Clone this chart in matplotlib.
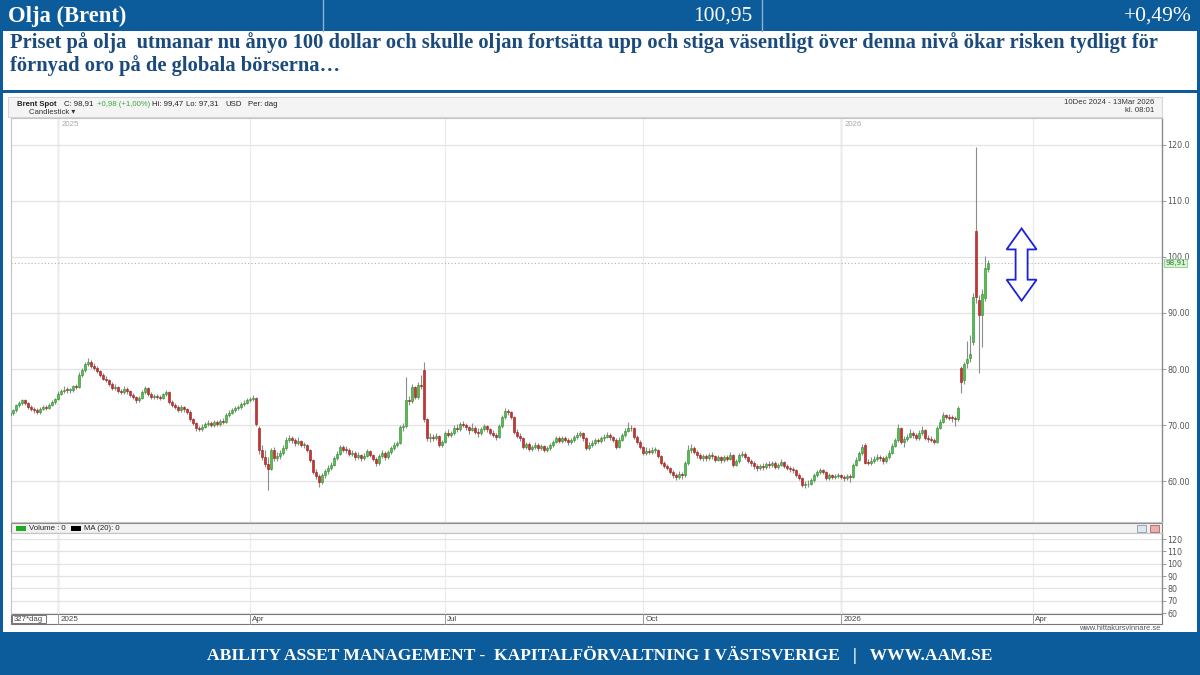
"""Brent spot: dagliga candlesticks med rubrikband, kommentar och sidfot (1200x675)."""

import matplotlib

matplotlib.use("Agg")  # ingen display

import matplotlib.pyplot as plt  # noqa: E402
import numpy as np  # noqa: E402
from matplotlib.patches import Polygon, Rectangle  # noqa: E402
from matplotlib.transforms import blended_transform_factory  # noqa: E402

# Dagliga OHLC, 10 dec 2024 - 13 mar 2026 (327 handelsdagar)
opens = [
    71.8, 72.1, 72.6, 73.5, 73.9, 74.4, 73.9, 73.2, 72.9, 72.7,
    72.4, 72.9, 73.2, 73.0, 73.6, 74.1, 74.6, 75.6, 76.0, 76.3,
    76.2, 76.2, 76.9, 76.8, 79.0, 79.8, 80.9, 81.3, 80.6, 80.2,
    79.6, 79.0, 78.3, 78.0, 77.3, 76.6, 76.8, 76.1, 75.9, 76.5,
    76.0, 75.4, 75.0, 74.4, 74.8, 75.9, 76.6, 75.6, 75.0, 75.2,
    75.0, 74.9, 75.5, 75.9, 74.1, 73.6, 73.2, 72.7, 73.2, 72.8,
    72.4, 71.0, 70.4, 69.5, 69.3, 69.7, 70.2, 70.4, 70.0, 70.6,
    70.2, 70.7, 70.6, 71.8, 72.2, 72.7, 73.0, 73.2, 73.8, 74.0,
    74.5, 74.6, 74.9, 69.5, 65.6, 64.2, 63.0, 62.2, 65.5, 64.1,
    64.5, 65.0, 65.9, 67.4, 67.7, 67.3, 66.8, 67.1, 66.4, 66.4,
    65.5, 63.8, 61.6, 60.9, 59.8, 61.0, 61.7, 62.4, 62.9, 64.1,
    64.9, 66.1, 65.6, 65.5, 64.8, 65.0, 64.2, 64.6, 64.1, 64.5,
    65.3, 64.6, 64.0, 63.2, 64.4, 65.0, 64.3, 65.2, 65.9, 66.5,
    66.8, 69.6, 69.8, 74.5, 74.2, 76.8, 75.0, 77.1, 79.9, 71.0,
    67.7, 67.9, 67.7, 68.1, 66.4, 67.0, 68.6, 68.3, 68.6, 69.5,
    69.2, 70.2, 70.0, 69.6, 69.1, 69.5, 68.8, 68.5, 69.3, 69.8,
    69.2, 68.6, 68.2, 67.9, 69.8, 71.4, 72.5, 72.3, 71.4, 68.8,
    68.1, 67.7, 66.1, 66.6, 65.7, 66.1, 66.4, 65.9, 66.2, 65.6,
    65.9, 66.4, 67.0, 67.7, 67.1, 67.6, 67.4, 66.9, 67.3, 67.8,
    68.2, 68.5, 67.6, 65.9, 66.5, 66.8, 67.3, 67.1, 67.6, 67.9,
    68.2, 67.9, 67.4, 66.1, 67.4, 68.2, 69.0, 69.5, 69.4, 67.9,
    67.0, 66.1, 65.0, 65.4, 65.2, 65.5, 65.5, 64.5, 63.2, 62.7,
    62.3, 61.6, 61.0, 60.7, 61.3, 61.0, 63.2, 65.5, 65.9, 65.2,
    64.6, 64.1, 64.5, 64.1, 64.6, 64.4, 63.8, 64.2, 63.8, 64.3,
    64.0, 64.6, 62.9, 63.6, 64.6, 64.9, 64.3, 63.6, 63.2, 62.6,
    62.3, 62.7, 62.5, 63.0, 62.8, 63.2, 62.5, 62.9, 63.4, 62.7,
    62.3, 62.1, 62.0, 61.1, 60.6, 59.3, 59.4, 59.5, 60.2, 61.0,
    61.6, 61.9, 61.6, 60.5, 61.0, 60.7, 60.9, 61.0, 60.7, 60.5,
    60.9, 60.7, 62.9, 63.8, 65.0, 66.5, 63.3, 63.2, 63.5, 64.0,
    64.3, 64.1, 63.5, 64.2, 65.0, 66.3, 67.3, 69.5, 67.0, 67.5,
    67.9, 68.6, 68.2, 67.7, 68.6, 69.1, 67.7, 67.5, 67.3, 67.0,
    69.5, 70.6, 71.8, 71.5, 71.3, 71.2, 71.0, 80.2, 78.0, 81.0,
    82.0, 84.8, 104.6, 92.3, 89.6, 92.7, 97.93,
]
highs = [
    72.5, 72.9, 73.8, 74.3, 74.6, 74.7, 74.1, 73.5, 73.3, 73.0,
    73.2, 73.5, 73.6, 73.9, 74.4, 74.9, 76.0, 76.5, 76.9, 76.8,
    76.6, 77.2, 77.4, 79.4, 80.2, 81.2, 82.0, 81.6, 81.0, 80.5,
    79.9, 79.3, 78.8, 78.2, 77.6, 77.4, 77.0, 76.5, 76.9, 76.8,
    76.3, 75.7, 75.2, 75.1, 76.2, 77.0, 76.8, 75.9, 75.6, 75.5,
    75.4, 75.8, 76.3, 76.0, 74.4, 73.9, 73.5, 73.6, 73.4, 73.0,
    72.6, 71.3, 70.6, 69.9, 70.1, 70.6, 70.9, 70.7, 70.9, 70.9,
    71.0, 71.2, 72.1, 72.6, 73.0, 73.4, 73.6, 74.1, 74.4, 74.8,
    75.0, 75.3, 75.0, 69.8, 66.4, 65.5, 64.3, 65.9, 66.1, 65.2,
    65.6, 66.4, 67.9, 68.3, 68.1, 67.7, 67.8, 67.4, 67.0, 66.6,
    65.7, 64.0, 62.1, 61.2, 61.4, 62.2, 62.8, 63.4, 64.5, 65.4,
    66.5, 66.4, 66.2, 65.9, 65.6, 65.3, 65.1, 64.9, 65.0, 65.7,
    65.6, 64.9, 64.3, 64.8, 65.5, 65.3, 65.6, 66.3, 66.9, 67.2,
    70.0, 70.3, 78.5, 75.1, 77.3, 77.0, 77.6, 79.0, 81.3, 71.3,
    68.5, 68.4, 68.6, 68.3, 67.4, 69.0, 69.2, 69.0, 70.0, 70.1,
    70.5, 70.8, 70.3, 69.9, 70.4, 69.8, 69.4, 69.7, 70.2, 70.0,
    69.5, 69.1, 68.6, 70.2, 71.8, 73.0, 72.9, 72.5, 71.6, 69.2,
    68.5, 67.9, 67.0, 66.9, 66.5, 66.9, 66.7, 66.6, 66.4, 66.3,
    66.8, 67.4, 68.1, 68.0, 68.0, 68.0, 67.7, 67.7, 68.3, 68.7,
    69.0, 68.7, 67.8, 66.9, 67.3, 67.7, 67.7, 68.0, 68.4, 68.7,
    68.5, 68.1, 67.6, 67.8, 68.6, 69.4, 70.6, 70.0, 69.6, 68.2,
    67.3, 66.3, 66.0, 65.9, 66.0, 66.1, 65.7, 64.7, 63.6, 63.1,
    62.5, 61.9, 61.4, 61.7, 61.6, 63.6, 66.5, 66.6, 66.2, 65.6,
    65.0, 64.9, 64.8, 65.0, 65.1, 64.6, 64.6, 64.5, 64.7, 64.7,
    65.1, 64.8, 64.0, 65.0, 65.3, 65.1, 64.5, 63.9, 63.5, 63.0,
    63.1, 63.2, 63.4, 63.5, 63.6, 63.5, 63.3, 63.9, 63.6, 63.0,
    62.7, 62.5, 62.2, 61.4, 60.8, 60.0, 60.1, 60.6, 61.4, 62.0,
    62.3, 62.2, 61.8, 61.4, 61.3, 61.3, 61.5, 61.3, 61.1, 61.3,
    61.2, 63.2, 64.2, 65.4, 66.6, 66.8, 63.9, 64.3, 64.5, 64.9,
    64.7, 64.4, 64.6, 65.5, 66.7, 67.7, 70.1, 69.7, 68.0, 68.4,
    69.2, 69.0, 68.5, 69.1, 69.9, 69.3, 68.2, 68.0, 67.6, 69.9,
    71.1, 72.3, 72.0, 71.9, 71.7, 71.6, 73.4, 80.5, 81.3, 85.0,
    86.0, 93.5, 119.6, 93.3, 94.2, 100.1, 99.47,
]
lows = [
    71.5, 71.8, 72.4, 73.2, 73.6, 73.5, 72.9, 72.5, 72.2, 71.9,
    72.0, 72.6, 72.7, 72.8, 73.4, 73.8, 74.4, 75.3, 75.7, 75.8,
    75.7, 75.9, 76.4, 76.6, 78.6, 79.5, 80.5, 80.2, 79.8, 79.2,
    78.6, 78.0, 77.6, 77.0, 76.2, 76.3, 75.8, 75.5, 75.6, 75.6,
    75.0, 74.6, 74.0, 74.1, 74.6, 75.6, 75.2, 74.6, 74.7, 74.6,
    74.5, 74.7, 75.2, 73.8, 73.2, 72.8, 72.3, 72.4, 72.4, 71.9,
    70.7, 70.0, 69.0, 68.9, 69.0, 69.4, 69.9, 69.6, 69.7, 69.8,
    69.9, 70.2, 70.4, 71.5, 71.9, 72.4, 72.6, 72.9, 73.4, 73.7,
    74.1, 74.2, 69.8, 64.9, 63.8, 62.5, 58.4, 61.9, 63.6, 63.5,
    64.0, 64.6, 65.6, 66.9, 66.8, 66.3, 66.4, 66.0, 65.9, 65.1,
    63.4, 61.2, 60.3, 58.9, 59.5, 60.6, 61.3, 62.0, 62.6, 63.7,
    64.6, 65.1, 65.0, 64.4, 64.4, 63.8, 63.9, 63.6, 63.7, 64.2,
    64.2, 63.5, 62.7, 62.9, 64.1, 63.8, 64.0, 64.9, 65.5, 66.1,
    66.6, 69.0, 69.5, 73.5, 73.9, 74.6, 74.7, 76.4, 70.6, 67.2,
    67.0, 67.2, 67.4, 66.0, 66.1, 66.8, 67.9, 67.8, 68.3, 68.8,
    68.9, 69.6, 69.1, 68.4, 68.9, 68.4, 67.9, 68.2, 69.0, 68.8,
    68.2, 67.8, 67.4, 67.6, 69.5, 71.1, 71.8, 71.0, 68.4, 67.6,
    67.2, 65.8, 65.7, 65.3, 65.3, 65.7, 65.4, 65.5, 65.2, 65.2,
    65.6, 66.1, 66.7, 66.7, 66.8, 67.0, 66.5, 66.6, 67.0, 67.5,
    67.8, 67.2, 65.5, 65.5, 66.1, 66.5, 66.7, 66.8, 67.2, 67.6,
    67.4, 67.0, 65.7, 65.9, 67.1, 67.9, 68.7, 68.9, 67.5, 66.6,
    65.7, 64.6, 64.7, 64.8, 64.9, 65.0, 64.1, 62.8, 62.3, 61.9,
    61.2, 60.5, 60.1, 60.4, 60.4, 60.8, 62.9, 65.0, 64.8, 64.1,
    63.7, 63.6, 63.6, 63.8, 64.0, 63.4, 63.5, 63.3, 63.4, 63.6,
    63.7, 62.5, 62.6, 63.3, 64.2, 63.9, 63.2, 62.7, 62.2, 61.8,
    61.9, 62.0, 62.2, 62.4, 62.5, 62.1, 62.1, 62.6, 62.3, 61.9,
    61.6, 61.5, 60.7, 60.1, 58.9, 58.8, 59.0, 59.2, 59.9, 60.7,
    61.2, 61.2, 60.1, 60.2, 60.3, 60.4, 60.5, 60.3, 60.0, 60.2,
    59.9, 60.5, 62.6, 63.5, 64.7, 63.0, 62.8, 62.9, 63.2, 63.6,
    63.6, 63.1, 63.2, 63.9, 64.8, 66.0, 67.0, 66.6, 66.0, 67.1,
    67.6, 67.7, 67.3, 67.4, 68.3, 67.3, 67.0, 66.9, 66.6, 66.8,
    69.2, 70.4, 71.1, 70.9, 70.6, 69.9, 70.7, 75.7, 77.4, 80.2,
    81.3, 84.2, 91.8, 79.3, 84.0, 92.2, 97.31,
]
closes = [
    72.1, 72.6, 73.5, 73.9, 74.4, 73.9, 73.2, 72.9, 72.7, 72.4,
    72.9, 73.2, 73.0, 73.6, 74.1, 74.6, 75.6, 76.0, 76.3, 76.2,
    76.2, 76.9, 76.8, 79.0, 79.8, 80.9, 81.3, 80.6, 80.2, 79.6,
    79.0, 78.3, 78.0, 77.3, 76.6, 76.8, 76.1, 75.9, 76.5, 76.0,
    75.4, 75.0, 74.4, 74.8, 75.9, 76.6, 75.6, 75.0, 75.2, 75.0,
    74.9, 75.5, 75.9, 74.1, 73.6, 73.2, 72.7, 73.2, 72.8, 72.4,
    71.0, 70.4, 69.5, 69.3, 69.7, 70.2, 70.4, 70.0, 70.6, 70.2,
    70.7, 70.6, 71.8, 72.2, 72.7, 73.0, 73.2, 73.8, 74.0, 74.5,
    74.6, 74.9, 70.1, 65.6, 64.2, 63.0, 62.2, 65.5, 64.1, 64.5,
    65.0, 65.9, 67.4, 67.7, 67.3, 66.8, 67.1, 66.4, 66.4, 65.5,
    63.8, 61.6, 60.9, 59.8, 61.0, 61.7, 62.4, 62.9, 64.1, 64.9,
    66.1, 65.6, 65.5, 64.8, 65.0, 64.2, 64.6, 64.1, 64.5, 65.3,
    64.6, 64.0, 63.2, 64.4, 65.0, 64.3, 65.2, 65.9, 66.5, 66.8,
    69.6, 69.8, 74.5, 74.2, 76.8, 75.0, 77.1, 77.0, 71.0, 67.7,
    67.9, 67.7, 68.1, 66.4, 67.0, 68.6, 68.3, 68.6, 69.5, 69.2,
    70.2, 70.0, 69.6, 69.1, 69.5, 68.8, 68.5, 69.3, 69.8, 69.2,
    68.6, 68.2, 67.9, 69.8, 71.4, 72.5, 72.3, 71.4, 68.8, 68.1,
    67.7, 66.1, 66.6, 65.7, 66.1, 66.4, 65.9, 66.2, 65.6, 65.9,
    66.4, 67.0, 67.7, 67.1, 67.6, 67.4, 66.9, 67.3, 67.8, 68.2,
    68.5, 67.6, 65.9, 66.5, 66.8, 67.3, 67.1, 67.6, 67.9, 68.2,
    67.9, 67.4, 66.1, 67.4, 68.2, 69.0, 69.5, 69.4, 67.9, 67.0,
    66.1, 65.0, 65.4, 65.2, 65.5, 65.5, 64.5, 63.2, 62.7, 62.3,
    61.6, 61.0, 60.7, 61.3, 61.0, 63.2, 65.5, 65.9, 65.2, 64.6,
    64.1, 64.5, 64.1, 64.6, 64.4, 63.8, 64.2, 63.8, 64.3, 64.0,
    64.6, 62.9, 63.6, 64.6, 64.9, 64.3, 63.6, 63.2, 62.6, 62.3,
    62.7, 62.5, 63.0, 62.8, 63.2, 62.5, 62.9, 63.4, 62.7, 62.3,
    62.1, 62.0, 61.1, 60.6, 59.3, 59.4, 59.5, 60.2, 61.0, 61.6,
    61.9, 61.6, 60.5, 61.0, 60.7, 60.9, 61.0, 60.7, 60.5, 60.9,
    60.7, 62.9, 63.8, 65.0, 66.1, 63.3, 63.2, 63.5, 64.0, 64.3,
    64.1, 63.5, 64.2, 65.0, 66.3, 67.3, 69.5, 67.0, 67.5, 67.9,
    68.6, 68.2, 67.7, 68.6, 69.1, 67.7, 67.5, 67.3, 67.0, 69.5,
    70.6, 71.8, 71.5, 71.3, 71.2, 71.0, 73.0, 77.7, 80.9, 81.8,
    82.7, 92.9, 92.9, 89.6, 93.4, 98.0, 98.91,
]

# tidsaxel: index = handelsdag sedan 10 dec 2024
month_ticks = [16, 80, 145, 211, 277, 341]
month_labels = ["2025", "Apr", "Jul", "Oct", "2026", "Apr"]
year_ticks = [16, 277]
year_labels = ["2025", "2026"]
price_ticks = [60, 70, 80, 90, 100, 110, 120]
price_labels = ["60.00", "70.00", "80.00", "90.00", "100.0", "110.0", "120.0"]
vol_ticks = [60, 70, 80, 90, 100, 110, 120]
last_price = 98.91
last_label = "98,91"

HEADER = ["Olja (Brent)", "100,95", "+0,49%"]
KOMMENTAR = [
    "Priset på olja  utmanar nu ånyo 100 dollar och skulle oljan fortsätta upp och stiga "
    "väsentligt över denna nivå ökar risken tydligt för",
    "förnyad oro på de globala börserna…",
]
SIDFOT = "ABILITY ASSET MANAGEMENT -  KAPITALFÖRVALTNING I VÄSTSVERIGE   |   WWW.AAM.SE"

_BLA = "#0c5c9b"
_TEXTBLA = "#1b4a7c"
_GRON = "#52c04a"
_GRON_KANT = "#2e8b2e"
_ROD = "#cc3330"
_ROD_KANT = "#8e1c1a"
_GRID = "#e3e3e3"
_GRA_TEXT = "#555555"
_SERIF = "Liberation Serif"
_SANS = "Liberation Sans"

W, H = 1200, 675


def px_axes(fig, left, top, right, bottom):
    return fig.add_axes([left / W, 1 - bottom / H, (right - left) / W, (bottom - top) / H])


def rita_ram(bg):
    # vita ytor ovanpå blå bakgrund
    bg.add_patch(Rectangle((3, 31), 1194, 59, fc="white", ec="none"))
    bg.add_patch(Rectangle((3, 93), 1194, 539, fc="white", ec="none"))
    for x in (323, 762):
        bg.plot([x, x], [0, 31], color="#8fb0d2", lw=1)
    bg.text(8, 16, HEADER[0], color="white", family=_SERIF, weight="bold",
            fontsize=16.3, va="center", ha="left")
    bg.text(752, 16, HEADER[1], color="white", family=_SERIF,
            fontsize=15.5, va="center", ha="right")
    bg.text(1192, 16, HEADER[2], color="white", family=_SERIF,
            fontsize=15.5, va="center", ha="right")
    bg.text(10, 43, KOMMENTAR[0], color=_TEXTBLA, family=_SERIF, weight="bold",
            fontsize=14.8, va="center", ha="left")
    bg.text(10, 66, KOMMENTAR[1], color=_TEXTBLA, family=_SERIF, weight="bold",
            fontsize=14.8, va="center", ha="left")
    bg.text(600, 655, SIDFOT, color="white", family=_SERIF, weight="bold",
            fontsize=12.6, va="center", ha="center")

    # informationsrad överst i grafen
    bg.add_patch(Rectangle((8, 97), 1154, 20, fc="#f4f4f4", ec="#d6d6d6", lw=0.8))
    small = dict(fontsize=5.6, va="center", family=_SANS)
    bg.text(17, 104, "Brent Spot", weight="bold", color="#222222", **small)
    bg.text(64, 104, "C: 98,91", color="#222222", **small)
    bg.text(97, 104, "+0,98 (+1,00%)", color="#3aa83a", **small)
    bg.text(152, 104, "Hi: 99,47", color="#222222", **small)
    bg.text(186, 104, "Lo: 97,31", color="#222222", **small)
    bg.text(225, 104, "USD", color="#222222", **small)
    bg.text(248, 104, "Per: dag", color="#222222", **small)
    bg.text(29, 112, "Candlestick ▾", color="#333333", fontsize=5.6, va="center",
            family=[_SANS, "DejaVu Sans"])
    bg.text(1154, 103, "10Dec 2024 - 13Mar 2026", color="#333333", ha="right", **small)
    bg.text(1154, 110, "kl. 08:01", color="#333333", ha="right", **small)

    # volymrutans rubrikrad och datumrad
    bg.add_patch(Rectangle((11, 523), 1151, 10, fc="#f2f2f2", ec="#8a8a8a", lw=0.8))
    bg.add_patch(Rectangle((16, 525.5), 10, 5, fc="#1faa1f", ec="none"))
    bg.text(29, 528, "Volume : 0", color="#222222", **small)
    bg.add_patch(Rectangle((71, 525.5), 10, 5, fc="black", ec="none"))
    bg.text(84, 528, "MA (20): 0", color="#222222", **small)
    bg.add_patch(Rectangle((1137, 525), 9, 7, fc="#dfe6ee", ec="#8a9aaa", lw=0.6))
    bg.add_patch(Rectangle((1150, 525), 9, 7, fc="#e8b0b0", ec="#b06060", lw=0.6))
    bg.add_patch(Rectangle((11, 614), 1151, 10, fc="white", ec="#777777", lw=0.8))
    bg.add_patch(Rectangle((12, 615), 34, 8, fc="white", ec="#777777", lw=0.7))
    bg.text(14, 619.5, "327*dag", color="#444444", **small)
    bg.text(1160, 629, "www.hittakursvinnare.se", color="#555555", ha="right",
            fontsize=5.4, va="center", family=_SANS)


def rita_candles(ax):
    idx = np.arange(len(closes))
    o = np.array(opens)
    c = np.array(closes)
    up = c >= o
    ax.vlines(idx, lows, highs, color="#8c8c8c", lw=0.8, zorder=2)
    bottom = np.minimum(o, c)
    height = np.maximum(np.abs(c - o), 0.15)
    ax.bar(idx[up], height[up], bottom=bottom[up], width=0.82, color=_GRON,
           edgecolor=_GRON_KANT, lw=0.4, zorder=3)
    ax.bar(idx[~up], height[~up], bottom=bottom[~up], width=0.82, color=_ROD,
           edgecolor=_ROD_KANT, lw=0.4, zorder=3)


def dubbelpil(ax, x, y0, y1, skaft, huvud_b, huvud_h):
    pts = [
        (x, y1), (x + huvud_b, y1 - huvud_h), (x + skaft, y1 - huvud_h),
        (x + skaft, y0 + huvud_h), (x + huvud_b, y0 + huvud_h), (x, y0),
        (x - huvud_b, y0 + huvud_h), (x - skaft, y0 + huvud_h),
        (x - skaft, y1 - huvud_h), (x - huvud_b, y1 - huvud_h),
    ]
    ax.add_patch(Polygon(pts, closed=True, fc="white", ec="#1a22d8", lw=1.3, zorder=5))


def stil_panel(ax, yticks, ylabels, ylim):
    ax.set_xlim(0.33, 384)
    ax.set_ylim(*ylim)
    ax.set_facecolor("white")
    ax.yaxis.tick_right()
    ax.set_yticks(yticks)
    ax.set_yticklabels(ylabels, fontsize=5.8, color=_GRA_TEXT, family="DejaVu Sans")
    ax.tick_params(axis="y", length=3, pad=1, color="#888888", width=0.6)
    ax.set_xticks(month_ticks)
    ax.set_xticklabels([])
    ax.tick_params(axis="x", length=0)
    ax.grid(axis="y", color=_GRID, lw=0.9)
    ax.grid(axis="x", color="#ececec", lw=0.9)
    for x in year_ticks:
        ax.axvline(x, color="#cfcfcf", lw=1.0, zorder=0.5)
    for side in ("top", "left", "bottom"):
        ax.spines[side].set_color("#c4c4c4")
        ax.spines[side].set_linewidth(0.8)
    ax.spines["right"].set_color("#8a8a8a")
    ax.spines["right"].set_linewidth(1.0)
    ax.set_axisbelow(True)


def main():
    fig = plt.figure(figsize=(12, 6.75), dpi=100)
    fig.patch.set_facecolor(_BLA)

    bg = fig.add_axes([0, 0, 1, 1], zorder=0)
    bg.set_xlim(0, W)
    bg.set_ylim(H, 0)
    bg.axis("off")
    rita_ram(bg)

    ax = px_axes(fig, 11, 118, 1162, 522)
    ax.set_zorder(2)
    stil_panel(ax, price_ticks, price_labels, (52.68, 124.82))
    rita_candles(ax)
    ax.axhline(last_price, color="#9cbf9c", lw=0.8, ls=(0, (1, 2)), zorder=1)
    trans = blended_transform_factory(ax.transAxes, ax.transData)
    ax.text(1.003, last_price, last_label, transform=trans, fontsize=5.2,
            color="#2d7a2d", va="center", ha="left", family="DejaVu Sans",
            bbox=dict(boxstyle="square,pad=0.15", fc="#d8f3d2", ec="#7cc47c", lw=0.5))
    ytop = blended_transform_factory(ax.transData, ax.transAxes)
    for x, lab in zip(year_ticks, year_labels):
        ax.text(x + 1.2, 0.993, lab, transform=ytop, fontsize=5.6, color="#a8a8a8",
                va="top", ha="left", family=_SANS)
    dubbelpil(ax, 337.2, 92.2, 105.1, 2.0, 5.0, 3.75)

    vol = px_axes(fig, 11, 533, 1162, 614)
    vol.set_zorder(2)
    stil_panel(vol, vol_ticks, [str(v) for v in vol_ticks], (59.2, 124.9))
    vol.spines["bottom"].set_visible(False)

    # datumetiketter under volymrutan
    xt = blended_transform_factory(vol.transData, vol.transAxes)
    for x, lab in zip(month_ticks, month_labels):
        vol.text(x + 0.8, -0.063, lab, transform=xt, fontsize=5.8, color="#444444",
                 va="center", ha="left", family=_SANS, clip_on=False)
        vol.plot([x, x], [-0.0, -0.123], transform=xt, color="#999999", lw=0.7,
                 clip_on=False)

    fig.savefig("out.png", dpi=100, facecolor=fig.get_facecolor())
    plt.close(fig)


if __name__ == "__main__":
    main()
